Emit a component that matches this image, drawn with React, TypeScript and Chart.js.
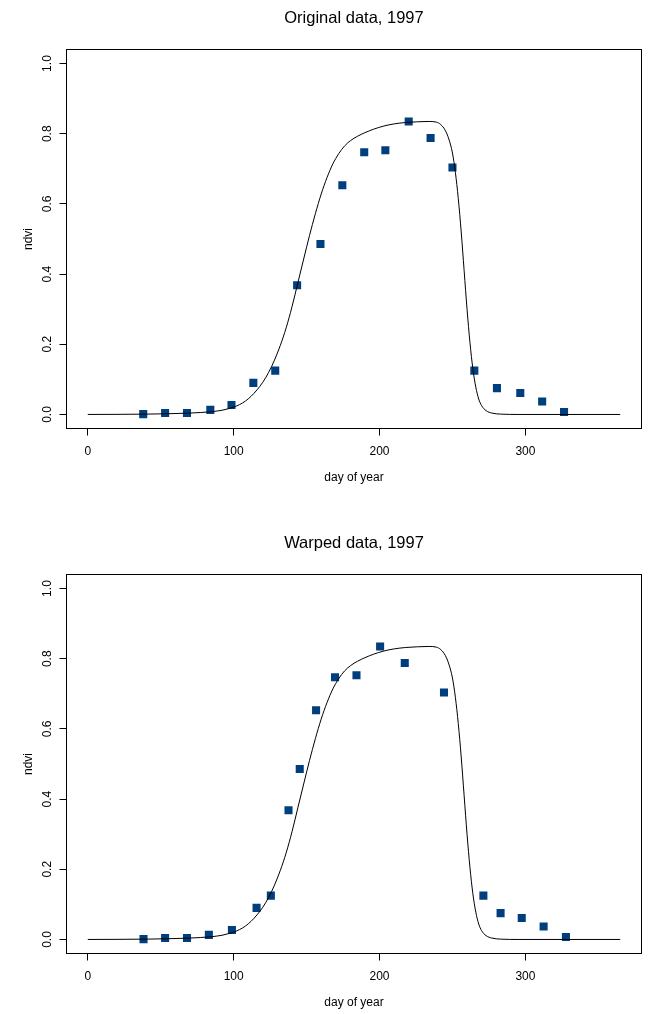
import React, { useEffect, useRef } from 'react';
import { Chart, registerables } from 'chart.js';

Chart.register(...registerables);

const FONT = "'Liberation Sans', Arial, Helvetica, sans-serif";

// ---- data ----
const panelTitles = ['Original data, 1997', 'Warped data, 1997'];
const originalDays = [38, 53, 68, 84, 98.5, 113.5, 128.5, 143.5, 159.5, 174.5, 189.5, 204, 220, 235, 250, 265, 280.5, 296.5, 311.5, 326.5];
const warpedDays = [38.2, 53, 68, 83, 98.8, 115.7, 125.5, 137.6, 145.3, 156.5, 169.5, 184.2, 200.4, 217.3, 244.2, 271.2, 283, 297.5, 312.5, 327.8];
const ndvi = [0.001, 0.004, 0.004, 0.013, 0.027, 0.09, 0.125, 0.368, 0.486, 0.653, 0.747, 0.753, 0.835, 0.788, 0.704, 0.125, 0.075, 0.061, 0.037, 0.007];

const curveDays = [
  0, 40, 70, 85, 92, 96, 100, 104, 108, 112, 116, 120, 124, 128, 132, 136, 140, 144, 148, 152,
  156, 160, 164, 168, 172, 176, 180, 185, 190, 196, 203, 210, 218, 226, 234, 239, 242, 245, 247.5,
  250, 252, 254, 256, 258, 260, 262, 264, 266, 268, 270, 273, 277, 283, 295, 365,
];
const curveNdvi = [
  0, 0.001, 0.004, 0.008, 0.012, 0.016, 0.021, 0.028, 0.038, 0.052, 0.07, 0.092, 0.12, 0.155, 0.197, 0.247, 0.307, 0.375, 0.443, 0.51,
  0.572, 0.628, 0.675, 0.714, 0.743, 0.765, 0.78, 0.793, 0.803, 0.813, 0.822, 0.828, 0.832, 0.834, 0.835, 0.833, 0.826, 0.81, 0.785,
  0.745, 0.69, 0.615, 0.52, 0.41, 0.3, 0.205, 0.13, 0.078, 0.044, 0.025, 0.011, 0.004, 0.001, 0, 0,
];

const xTicks = [0, 100, 200, 300];
const xTickLabels = ['0', '100', '200', '300'];
const yTicks = [0, 0.2, 0.4, 0.6, 0.8, 1.0];
const yTickLabels = ['0.0', '0.2', '0.4', '0.6', '0.8', '1.0'];
const xRange = [-14.6, 379.6];
const yRange = [-0.04, 1.04];

// ---- layout ----
const W = 653;
const H = 489;
const PLOT_LEFT = 66.5;
const PLOT_TOP = 49.5;
const PLOT_BOTTOM = 428.5;
const RIGHT_PAD = 11.5;
const POINT_COLOR = '#003f7d';

const boxPlugin = {
  id: 'rbox',
  afterDatasetsDraw(chart: any) {
    const { ctx, chartArea: a } = chart;
    ctx.save();
    ctx.strokeStyle = '#000';
    ctx.lineWidth = 1;
    ctx.strokeRect(a.left, a.top, a.right - a.left, a.bottom - a.top);
    ctx.restore();
  },
};

function makeChart(canvas: HTMLCanvasElement, title: string, days: number[]) {
  const titleSize = 16.5;
  const titleLH = titleSize * 1.2;
  const titleTop = 18 - titleLH / 2;
  const titleBottom = PLOT_TOP - titleTop - titleLH;
  return new Chart(canvas, {
    type: 'scatter',
    data: {
      datasets: [
        {
          label: 'curve',
          data: curveDays.map((d, i) => ({ x: d, y: curveNdvi[i] })),
          showLine: true,
          borderColor: '#000',
          borderWidth: 1,
          pointRadius: 0,
          cubicInterpolationMode: 'monotone',
          fill: false,
        },
        {
          label: 'ndvi',
          data: days.map((d, i) => ({ x: d, y: ndvi[i] })),
          showLine: false,
          pointStyle: 'rect',
          pointRadius: 5.7,
          pointBorderWidth: 0,
          pointBackgroundColor: POINT_COLOR,
          backgroundColor: POINT_COLOR,
          borderColor: POINT_COLOR,
        },
      ],
    },
    options: {
      animation: false,
      responsive: false,
      devicePixelRatio: 1,
      events: [],
      layout: { padding: { left: 0, right: RIGHT_PAD, top: 0, bottom: 0 } },
      plugins: {
        legend: { display: false },
        tooltip: { enabled: false },
        title: {
          display: true,
          text: title,
          fullSize: false,
          color: '#000',
          font: { family: FONT, size: titleSize, weight: 'normal', lineHeight: 1.2 },
          padding: { top: titleTop, bottom: titleBottom },
        },
      },
      scales: {
        x: {
          type: 'linear',
          min: xRange[0],
          max: xRange[1],
          afterBuildTicks: (s: any) => {
            s.ticks = xTicks.map((v) => ({ value: v }));
          },
          afterFit: (s: any) => {
            s.height = H - PLOT_BOTTOM;
          },
          ticks: {
            callback: (_v: any, i: number) => xTickLabels[i],
            color: '#000',
            font: { family: FONT, size: 12 },
            padding: 9,
            maxRotation: 0,
            minRotation: 0,
          },
          grid: { display: true, drawOnChartArea: false, drawTicks: true, tickLength: 7, color: '#000', lineWidth: 1 },
          border: { display: false },
          title: {
            display: true,
            text: 'day of year',
            color: '#000',
            font: { family: FONT, size: 12 },
            padding: { top: 0, bottom: 3.8 },
          },
        },
        y: {
          type: 'linear',
          min: yRange[0],
          max: yRange[1],
          afterBuildTicks: (s: any) => {
            s.ticks = yTicks.map((v) => ({ value: v }));
          },
          afterFit: (s: any) => {
            s.width = PLOT_LEFT;
          },
          ticks: {
            callback: (_v: any, i: number) => yTickLabels[i],
            color: '#000',
            font: { family: FONT, size: 12 },
            padding: 3,
            minRotation: 90,
            maxRotation: 90,
            crossAlign: 'center',
          },
          grid: { display: true, drawOnChartArea: false, drawTicks: true, tickLength: 7, color: '#000', lineWidth: 1 },
          border: { display: false },
          title: {
            display: true,
            text: 'ndvi',
            color: '#000',
            font: { family: FONT, size: 12 },
            padding: { top: 21, bottom: 0 },
          },
        },
      },
    },
    plugins: [boxPlugin],
  } as any);
}

function Panel({ title, days, top }: { title: string; days: number[]; top: number }) {
  const ref = useRef<HTMLCanvasElement | null>(null);
  useEffect(() => {
    if (!ref.current) return;
    const chart = makeChart(ref.current, title, days);
    return () => chart.destroy();
  }, [title, days]);
  return (
    <canvas
      ref={ref}
      width={W}
      height={H}
      style={{ position: 'absolute', left: 0, top, width: W, height: H, display: 'block' }}
    />
  );
}

export default function App() {
  return (
    <div style={{ position: 'absolute', left: 0, top: 0, width: W, height: 1014, overflow: 'hidden', background: '#fff' }}>
      <Panel title={panelTitles[0]} days={originalDays} top={0} />
      <Panel title={panelTitles[1]} days={warpedDays} top={525} />
    </div>
  );
}
